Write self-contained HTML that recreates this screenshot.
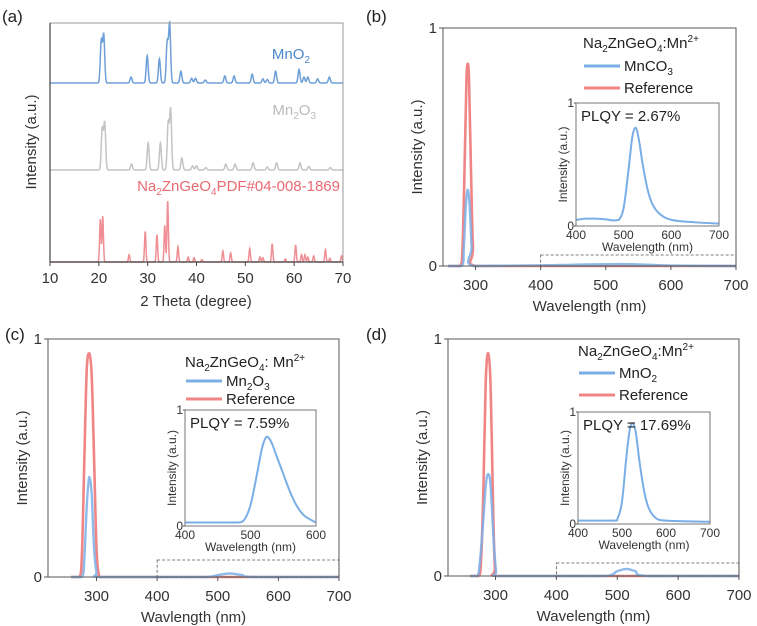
<!DOCTYPE html>
<html><head><meta charset="utf-8"><style>
body{margin:0;background:#fff}
svg{display:block;font-family:"Liberation Sans",sans-serif}
</style></head><body>
<svg id="fig" width="757" height="626" viewBox="0 0 757 626"></svg>
<script>
// ---- Panel (a) XRD peak data: [2theta, relative height]
const xrdMnO2Peaks=[[20.5,0.71],[21.0,0.81],[26.6,0.1],[29.9,0.46],[32.4,0.41],[34.0,0.69],[34.5,1.0],[36.8,0.2],[39.0,0.08],[39.8,0.08],[41.8,0.05],[45.8,0.12],[47.7,0.12],[51.4,0.15],[53.6,0.07],[54.5,0.06],[56.2,0.2],[61.0,0.23],[62.0,0.1],[62.8,0.1],[64.8,0.07],[67.2,0.1]];
const xrdMn2O3Peaks=[[20.7,0.68],[21.2,0.78],[26.7,0.1],[30.1,0.45],[32.6,0.45],[34.2,0.77],[34.7,1.0],[37.0,0.2],[39.2,0.07],[40.0,0.07],[41.9,0.04],[46.0,0.1],[47.9,0.1],[51.6,0.12],[54.5,0.05],[56.4,0.12],[61.2,0.12],[63.0,0.06],[67.4,0.04]];
const xrdPdfPeaks=[[20.3,0.7],[20.8,0.75],[26.2,0.12],[29.5,0.5],[31.9,0.45],[33.5,0.6],[34.1,1.0],[36.2,0.25],[38.3,0.08],[39.5,0.07],[41.1,0.04],[45.4,0.18],[47.0,0.15],[50.9,0.22],[53.0,0.08],[53.6,0.07],[55.5,0.3],[58.2,0.05],[60.3,0.28],[61.5,0.12],[62.2,0.12],[62.8,0.08],[64.0,0.1],[66.4,0.2],[67.3,0.06],[69.7,0.1]];
const xrdTicks=[10,20,30,40,50,60,70];
// ---- Panel (b)
const bRef=[[258,0],[276,0],[280,0.08],[283,0.4],[286,0.78],[288,0.85],[290,0.78],[293,0.4],[296,0.08],[300,0],[400,0],[700,0]];
const bBlue=[[258,0],[279,0],[282,0.08],[285,0.25],[288,0.32],[291,0.25],[294,0.08],[297,0],[400,0.003],[525,0.008],[600,0.002],[700,0]];
const bInset=[[400,0.05],[420,0.06],[440,0.06],[460,0.055],[480,0.045],[490,0.05],[500,0.15],[510,0.45],[518,0.72],[525,0.8],[532,0.7],[540,0.5],[550,0.3],[560,0.18],[575,0.1],[600,0.05],[650,0.03],[700,0.02]];
// ---- Panel (c)
const cRef=[[258,0],[272,0],[276,0.1],[280,0.5],[284,0.88],[288,0.94],[292,0.85],[296,0.5],[300,0.12],[304,0.01],[310,0],[400,0],[700,0]];
const cBlue=[[258,0],[276,0],[280,0.08],[284,0.3],[288,0.42],[292,0.35],[296,0.12],[300,0.02],[304,0],[400,0],[480,0],[500,0.008],[520,0.015],[540,0.008],[560,0],[700,0]];
const cInset=[[400,0.03],[450,0.03],[480,0.03],[490,0.05],[500,0.18],[510,0.45],[518,0.68],[525,0.77],[532,0.72],[540,0.6],[550,0.45],[560,0.3],[570,0.18],[580,0.1],[590,0.06],[600,0.03]];
// ---- Panel (d)
const dRef=[[258,0],[272,0],[276,0.05],[280,0.35],[284,0.82],[288,0.94],[292,0.8],[296,0.3],[299,0.03],[302,0],[400,0],[700,0]];
const dBlue=[[258,0],[270,0],[274,0.05],[279,0.2],[284,0.38],[288,0.43],[292,0.38],[297,0.15],[301,0.02],[304,0],[400,0],[480,0],[500,0.02],[515,0.03],[530,0.02],[550,0],[700,0]];
const dInset=[[400,0.03],[480,0.03],[490,0.05],[500,0.2],[510,0.6],[518,0.85],[525,0.9],[532,0.8],[540,0.55],[550,0.3],[560,0.15],[575,0.06],[600,0.03],[700,0.02]];
const mainTicks=[300,400,500,600,700];

const NS="http://www.w3.org/2000/svg";
const svg=document.getElementById('fig');
function el(tag,attrs,parent,text){const e=document.createElementNS(NS,tag);for(const k in attrs)e.setAttribute(k,attrs[k]);if(text!==undefined)e.textContent=text;(parent||svg).appendChild(e);return e;}
function lin(d0,d1,r0,r1){return v=>r0+(v-d0)/(d1-d0)*(r1-r0);}
// Catmull-Rom smooth path, control points clamped to avoid overshoot
function smoothPath(pts){
  let d='M'+pts[0][0].toFixed(2)+','+pts[0][1].toFixed(2);
  const cl=(v,a,b)=>Math.max(Math.min(a,b),Math.min(Math.max(a,b),v));
  for(let i=0;i<pts.length-1;i++){
    const p0=pts[Math.max(0,i-1)],p1=pts[i],p2=pts[i+1],p3=pts[Math.min(pts.length-1,i+2)];
    const c1=[p1[0]+(p2[0]-p0[0])/6,cl(p1[1]+(p2[1]-p0[1])/6,p1[1],p2[1])];
    const c2=[p2[0]-(p3[0]-p1[0])/6,cl(p2[1]-(p3[1]-p1[1])/6,p1[1],p2[1])];
    d+='C'+c1[0].toFixed(2)+','+c1[1].toFixed(2)+' '+c2[0].toFixed(2)+','+c2[1].toFixed(2)+' '+p2[0].toFixed(2)+','+p2[1].toFixed(2);
  }
  return d;
}

// ---------- Panel a
(function(){
  const g=el('g',{});
  
  
  const X=lin(10,70,50,343);
  const t=el('text',{x:2,y:22,'font-size':17,fill:'#222'},g,'(a)');
  
  const series=[[xrdMnO2Peaks,84,59,'#6d9fd8','xrd-mno2',0.2],[xrdMn2O3Peaks,171,60,'#c4c4c4','xrd-mn2o3',0.2],[xrdPdfPeaks,262,61,'#ef8f95','xrd-pdf',0.14]];
  series.forEach(([pk,base,h,col,name,w])=>{
    let d='';
    for(let x=10;x<=70.001;x+=0.05){
      let y=0;pk.forEach(([p,a])=>{y+=a*Math.exp(-((x-p)*(x-p))/(2*w*w));});
      d+=(d?'L':'M')+X(x).toFixed(2)+','+(base-y*h-(name==='xrd-pdf'?0:1)).toFixed(2);
    }
    const p=el('path',{d:d,fill:'none',stroke:col,'stroke-width':1.5},g);
    
  });
  const f=el('rect',{x:50,y:23,width:293,height:239,fill:'none',stroke:'#999','stroke-width':1},g);
  
  el('line',{x1:50,y1:23,x2:50,y2:262,stroke:'#444','stroke-width':1.2},g);
  el('line',{x1:50,y1:262,x2:343,y2:262,stroke:'#444','stroke-width':1.2},g);
  xrdTicks.forEach(v=>{
    el('line',{x1:X(v),y1:262,x2:X(v),y2:266,stroke:'#444'},g);
    const tl=el('text',{x:X(v),y:283,'font-size':15,'text-anchor':'middle',fill:'#333'},g,v);
    
  });
  const xt=el('text',{x:196,y:306,'font-size':15,'text-anchor':'middle',fill:'#333'},g,'2 Theta (degree)');
  
  const yt=el('text',{x:0,y:0,'font-size':15,'text-anchor':'middle',fill:'#333',transform:'translate(36,142) rotate(-90)'},g,'Intensity (a.u.)');
  
  const l1=el('text',{x:310,y:59,'font-size':15,'text-anchor':'end',fill:'#4a88cc'},g);
  
  l1.innerHTML='MnO<tspan font-size="10" dy="4">2</tspan>';
  const l2=el('text',{x:316,y:115,'font-size':15,'text-anchor':'end',fill:'#bbb'},g);
  
  l2.innerHTML='Mn<tspan font-size="10" dy="4">2</tspan><tspan dy="-4">O</tspan><tspan font-size="10" dy="4">3</tspan>';
  const l3=el('text',{x:340,y:191,'font-size':15,'text-anchor':'end',fill:'#e86a72'},g);
  
  l3.innerHTML='Na<tspan font-size="10" dy="4">2</tspan><tspan dy="-4">ZnGeO</tspan><tspan font-size="10" dy="4">4</tspan><tspan dy="-4">PDF#04-008-1869</tspan>';
})();

// ---------- PL panels
function plPanel(c){
  const g=el('g',{});
  
  
  const X=lin(c.xd0,700,c.x0,c.x1), Y=lin(0,1,c.yb,c.yt);
  const lab=el('text',{x:c.labX,y:c.labY,'font-size':17,fill:'#222'},g,'('+c.id+')');
  
  const pathOf=(arr,XX,YY)=>smoothPath(arr.map(p=>[XX(p[0]),YY(p[1])]));
  const r=el('path',{d:pathOf(c.ref,X,Y),fill:'none',stroke:'#ef8585','stroke-width':2.6,'stroke-linejoin':'round'},g);
  
  const b=el('path',{d:pathOf(c.blue,X,Y),fill:'none',stroke:'#7aaee6','stroke-width':2.4,'stroke-opacity':0.85,'stroke-linejoin':'round'},g);
  
  const fr=el('rect',{x:c.x0,y:c.yt,width:c.x1-c.x0,height:c.yb-c.yt,fill:'none',stroke:'#666','stroke-width':1.1},g);
  
  mainTicks.forEach(v=>{
    el('line',{x1:X(v),y1:c.yb,x2:X(v),y2:c.yb+4,stroke:'#555'},g);
    const t=el('text',{x:X(v),y:c.yb+24,'font-size':15,'text-anchor':'middle',fill:'#333'},g,v);
    
  });
  [[0,'0'],[1,'1']].forEach(([v,s])=>{
    el('line',{x1:c.x0-4,y1:Y(v),x2:c.x0,y2:Y(v),stroke:'#555'},g);
    const t=el('text',{x:c.x0-6,y:Y(v)+5,'font-size':15,'text-anchor':'end',fill:'#333'},g,s);
    
  });
  const xt=el('text',{x:(c.x0+c.x1)/2,y:c.yb+45,'font-size':15,'text-anchor':'middle',fill:'#333'},g,c.xtitle);
  
  const yt=el('text',{x:0,y:0,'font-size':15,'text-anchor':'middle',fill:'#333',transform:`translate(${c.x0-21},${(c.yt+c.yb)/2}) rotate(-90)`},g,'Intensity (a.u.)');
  
  const db=el('rect',{x:X(400),y:c.dashY,width:c.x1-X(400),height:c.yb-c.dashY,fill:'none',stroke:'#555','stroke-width':0.8,'stroke-dasharray':'3,2'},g);
  
  const tt=el('text',{x:c.lgX,y:c.lgY,'font-size':15,fill:'#222'},g);
  
  tt.innerHTML='Na<tspan font-size="10" dy="4">2</tspan><tspan dy="-4">ZnGeO</tspan><tspan font-size="10" dy="4">4</tspan><tspan dy="-4">:'+(c.id==='c'?' ':'')+'Mn</tspan><tspan font-size="10" dy="-6">2+</tspan>';
  [[c.sampleHTML,'#7aaee6',c.lgY+c.lgS1,'legend-entry-sample'],['Reference','#ef8585',c.lgY+c.lgS2,'legend-entry-reference']].forEach(([txt,col,y,nm])=>{
    const lg=el('g',{},g);
    
    el('line',{x1:c.lgX+1,y1:y-5,x2:c.lgX+37,y2:y-5,stroke:col,'stroke-width':3},lg);
    const t=el('text',{x:c.lgX+41,y:y,'font-size':15,fill:'#222'},lg);t.innerHTML=txt;
  });
  const ig=el('g',{},g);
  
  const IX=lin(400,c.inMax,c.ix0,c.ix1), IY=lin(0,1,c.iyb,c.iyt);
  const ip=el('path',{d:pathOf(c.inset,IX,IY),fill:'none',stroke:'#7aaee6','stroke-width':2,'stroke-linejoin':'round'},ig);
  
  el('rect',{x:c.ix0,y:c.iyt,width:c.ix1-c.ix0,height:c.iyb-c.iyt,fill:'none',stroke:'#777','stroke-width':1},ig);
  c.inTicks.forEach(v=>{
    const t=el('text',{x:IX(v),y:c.iyb+13,'font-size':12,'text-anchor':'middle',fill:'#333'},ig,v);
    
  });
  [[0,'0'],[1,'1']].forEach(([v,s])=>{
    el('line',{x1:c.ix0-2,y1:IY(v),x2:c.ix0,y2:IY(v),stroke:'#555'},ig);
    const t=el('text',{x:c.ix0-2,y:IY(v)+4,'font-size':12,'text-anchor':'end',fill:'#333'},ig,s);
    
  });
  const ixt=el('text',{x:(c.ix0+c.ix1)/2,y:c.iyb+25,'font-size':12,'text-anchor':'middle',fill:'#333'},ig,'Wavelength (nm)');
  
  const iyt=el('text',{x:0,y:0,'font-size':12,'text-anchor':'middle',fill:'#333',transform:`translate(${c.ix0-9},${(c.iyt+c.iyb)/2}) rotate(-90)`},ig,'Intensity (a.u.)');
  
  const pq=el('text',{x:c.ix0+5,y:c.iyt+18,'font-size':15,fill:'#222'},ig,c.plqy);
  
}
plPanel({id:'b',labX:366,labY:22,xd0:250,x0:443,x1:736,yt:28,yb:266,ref:bRef,blue:bBlue,xtitle:'Wavelength (nm)',dashY:255,
  lgX:583,lgY:48,lgS1:23,lgS2:45,sampleHTML:'MnCO<tspan font-size="10" dy="4">3</tspan>',
  ix0:576,ix1:719,iyt:103,iyb:226,inMax:700,inTicks:[400,500,600,700],inset:bInset,plqy:'PLQY = 2.67%'});
plPanel({id:'c',labX:5,labY:340,xd0:220,x0:48,x1:339,yt:339,yb:577,ref:cRef,blue:cBlue,xtitle:'Wavlength (nm)',dashY:560,
  lgX:185,lgY:367,lgS1:19,lgS2:37,sampleHTML:'Mn<tspan font-size="10" dy="4">2</tspan><tspan dy="-4">O</tspan><tspan font-size="10" dy="4">3</tspan>',
  ix0:185,ix1:316,iyt:410,iyb:526,inMax:600,inTicks:[400,500,600],inset:cInset,plqy:'PLQY = 7.59%'});
plPanel({id:'d',labX:366,labY:340,xd0:222,x0:448,x1:739,yt:339,yb:576,ref:dRef,blue:dBlue,xtitle:'Wavelength (nm)',dashY:563,
  lgX:578,lgY:356,lgS1:22,lgS2:44,sampleHTML:'MnO<tspan font-size="10" dy="4">2</tspan>',
  ix0:578,ix1:710,iyt:412,iyb:524,inMax:700,inTicks:[400,500,600,700],inset:dInset,plqy:'PLQY = 17.69%'});
</script>
</body></html>
